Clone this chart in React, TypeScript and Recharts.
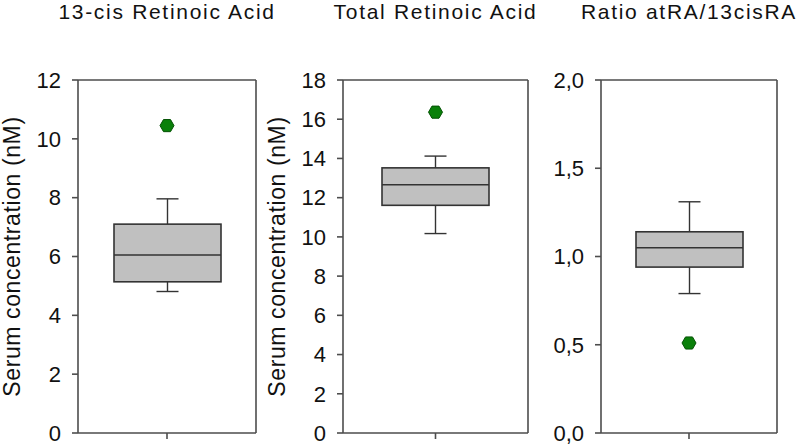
import React from 'react'
import { ComposedChart, Bar, Scatter, XAxis, YAxis } from 'recharts'

const titles = ['13-cis Retinoic Acid', 'Total Retinoic Acid', 'Ratio atRA/13cisRA']
const axisTitles = ['Serum concentration (nM)', 'Serum concentration (nM)', '']
const whiskerLow = [4.81, 10.17, 0.79]
const lowerQuartile = [5.14, 11.61, 0.94]
const medians = [6.05, 12.66, 1.05]
const upperQuartile = [7.1, 13.52, 1.14]
const whiskerHigh = [7.96, 14.12, 1.31]
const outliers = [10.45, 16.36, 0.51]
const yTicks = [
  [0, 2, 4, 6, 8, 10, 12],
  [0, 2, 4, 6, 8, 10, 12, 14, 16, 18],
  [0, 0.5, 1, 1.5, 2],
]
const commaDecimals = [false, false, true]

// where each panel sits on the page
const layout = [
  { left: 0, plotLeft: 78, plotRight: 256 },
  { left: 265, plotLeft: 78, plotRight: 263 },
  { left: 530, plotLeft: 71, plotRight: 247 },
]

const CHART_W = 270
const CHART_H = 445
const PLOT_TOP = 80
const PLOT_BOTTOM = 433
const FONT = '"Liberation Sans", Arial, sans-serif'
const FRAME = '#4d4d4d'

const BoxShape = (props: any) => {
  const { x, y, width, height, payload } = props
  const top = Math.min(y, y + height)
  const h = Math.abs(height)
  const [lo, hi] = payload.range
  const yOf = (v: number) => top + (h * (hi - v)) / (hi - lo)
  const cx = x + width / 2
  const cap = 11
  const line = { stroke: '#333', strokeWidth: 1.4 }
  return (
    <g>
      <line x1={cx} x2={cx} y1={yOf(hi)} y2={yOf(payload.q3)} {...line} />
      <line x1={cx} x2={cx} y1={yOf(payload.q1)} y2={yOf(lo)} {...line} />
      <line x1={cx - cap} x2={cx + cap} y1={yOf(hi)} y2={yOf(hi)} {...line} />
      <line x1={cx - cap} x2={cx + cap} y1={yOf(lo)} y2={yOf(lo)} {...line} />
      <rect
        x={x}
        y={yOf(payload.q3)}
        width={width}
        height={yOf(payload.q1) - yOf(payload.q3)}
        fill="#c0c0c0"
        stroke="#333"
        strokeWidth={1.6}
      />
      <line x1={x} x2={x + width} y1={yOf(payload.median)} y2={yOf(payload.median)} stroke="#333" strokeWidth={1.6} />
    </g>
  )
}

const Hexagon = (props: any) => {
  const { cx, cy } = props
  if (cx == null || cy == null) return null
  const r = 7
  const pts = [0, 60, 120, 180, 240, 300]
    .map((a) => {
      const t = (a * Math.PI) / 180
      return `${cx + r * Math.cos(t)},${cy + r * Math.sin(t)}`
    })
    .join(' ')
  return <polygon points={pts} fill="#0a800a" stroke="#055205" strokeWidth={1} />
}

function Panel({ i }: { i: number }) {
  const data = [
    {
      name: titles[i],
      range: [whiskerLow[i], whiskerHigh[i]],
      q1: lowerQuartile[i],
      median: medians[i],
      q3: upperQuartile[i],
      outlier: outliers[i],
    },
  ]
  const ticks = yTicks[i]
  const fmt = (v: number) => (commaDecimals[i] ? v.toFixed(1).replace('.', ',') : String(v))
  const lay = layout[i]
  const axisW = 1
  return (
    <div style={{ position: 'absolute', left: lay.left, top: 0, width: CHART_W, height: CHART_H }}>
      <ComposedChart
        width={CHART_W}
        height={CHART_H}
        data={data}
        margin={{
          top: PLOT_TOP - axisW,
          right: CHART_W - lay.plotRight - axisW,
          bottom: CHART_H - PLOT_BOTTOM - axisW,
          left: lay.plotLeft - axisW,
        }}
      >
        <XAxis
          dataKey="name"
          type="category"
          height={axisW}
          tickFormatter={() => ''}
          tickSize={6}
          axisLine={{ stroke: FRAME, strokeWidth: 1.6 }}
          tickLine={{ stroke: FRAME, strokeWidth: 1.6 }}
        />
        <XAxis
          xAxisId="top"
          dataKey="name"
          orientation="top"
          height={axisW}
          tick={false}
          tickLine={false}
          axisLine={{ stroke: FRAME, strokeWidth: 1.6 }}
        />
        <YAxis
          type="number"
          domain={[0, ticks[ticks.length - 1]]}
          ticks={ticks}
          width={axisW}
          interval={0}
          tickFormatter={fmt}
          tickSize={6}
          tickMargin={11}
          tick={{ fill: '#111', fontSize: 22, fontFamily: FONT }}
          axisLine={{ stroke: FRAME, strokeWidth: 1.6 }}
          tickLine={{ stroke: FRAME, strokeWidth: 1.6 }}
          label={
            axisTitles[i]
              ? {
                  value: axisTitles[i],
                  angle: -90,
                  position: 'left',
                  offset: 65,
                  style: { textAnchor: 'middle', fill: '#111', fontSize: 23, fontFamily: FONT, letterSpacing: 0.6 },
                }
              : undefined
          }
        />
        <YAxis
          yAxisId="right"
          orientation="right"
          width={axisW}
          domain={[0, 1]}
          tick={false}
          tickLine={false}
          axisLine={{ stroke: FRAME, strokeWidth: 1.6 }}
        />
        <Bar dataKey="range" barSize={107} shape={<BoxShape />} isAnimationActive={false} />
        <Scatter dataKey="outlier" shape={<Hexagon />} isAnimationActive={false} />
      </ComposedChart>
      <div
        style={{
          position: 'absolute',
          top: 0,
          left: lay.plotLeft,
          width: lay.plotRight - lay.plotLeft,
          whiteSpace: 'nowrap',
          fontFamily: FONT,
          fontSize: 21,
          lineHeight: '24px',
          letterSpacing: 1.7,
          color: '#111',
          display: 'flex',
          justifyContent: 'center',
        }}
      >
        <span>{titles[i]}</span>
      </div>
    </div>
  )
}

export default function App() {
  return (
    <div
      style={{
        position: 'absolute',
        left: 0,
        top: 0,
        width: 800,
        height: 445,
        background: '#fff',
        overflow: 'hidden',
      }}
    >
      {titles.map((_, i) => (
        <Panel key={i} i={i} />
      ))}
    </div>
  )
}
